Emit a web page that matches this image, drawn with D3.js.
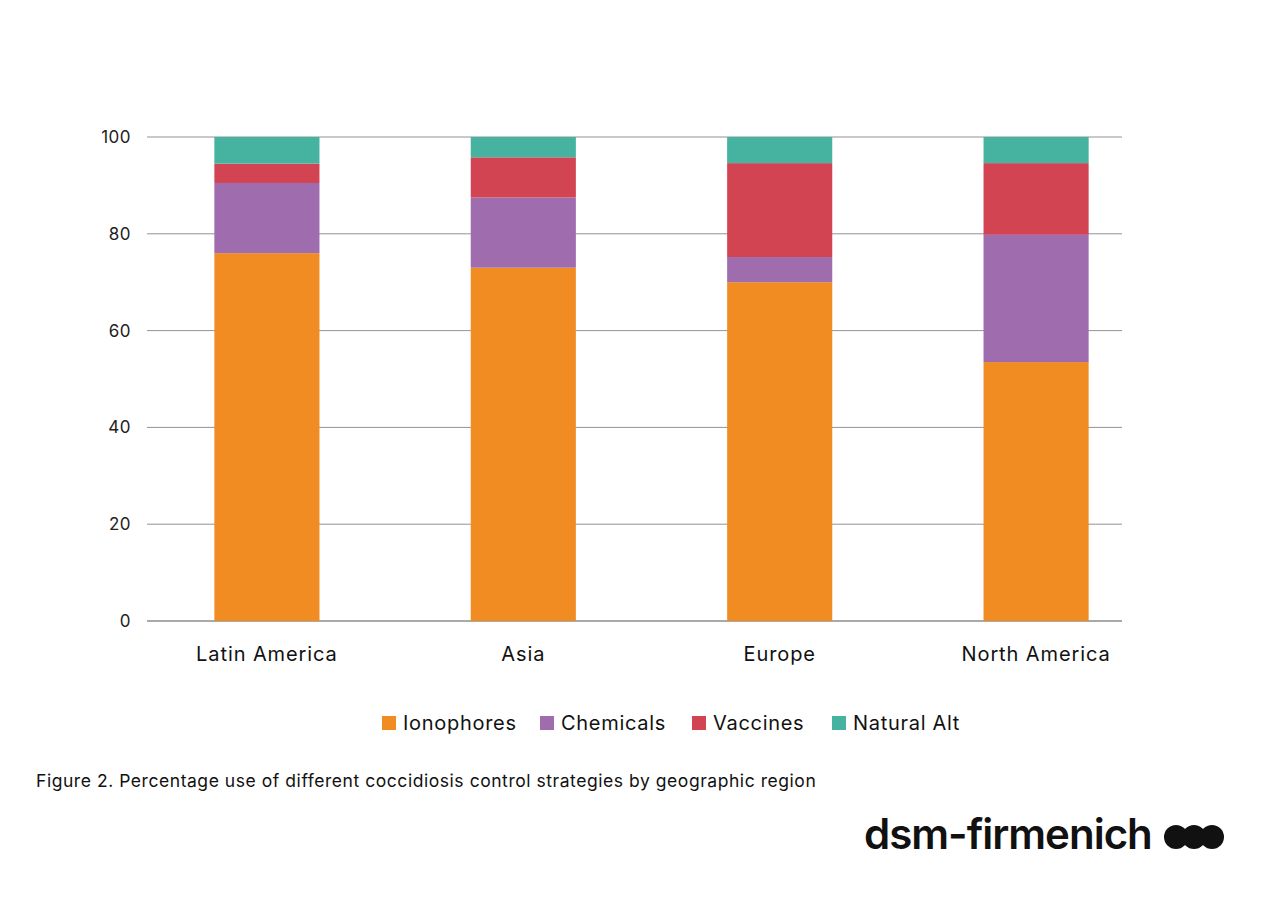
<!DOCTYPE html>
<html><head><meta charset="utf-8">
<script src="https://cdn.jsdelivr.net/npm/d3@7"></script>
<style>body{margin:0;background:#fff}</style></head>
<body><svg id="c" width="1280" height="905"></svg>
<script>
const regions=["Latin America","Asia","Europe","North America"];
const seriesNames=["Ionophores","Chemicals","Vaccines","Natural Alt"];
const ionophores=[76,73,70,53.5];
const chemicals=[14.5,14.5,5.2,26.3];
const vaccines=[4,8.3,19.4,14.8];
const naturalAlt=[5.5,4.2,5.4,5.4];
const yTicks=[0,20,40,60,80,100];
const colors=["#f08c22","#9f6dae","#d34452","#45b3a0"];
const font="Inter, 'Open Sans', sans-serif";
const svg=d3.select("#c");
const data=regions.map((r,i)=>({region:r,Ionophores:ionophores[i],Chemicals:chemicals[i],Vaccines:vaccines[i],"Natural Alt":naturalAlt[i]}));
const stack=d3.stack().keys(seriesNames)(data);
const x=d3.scaleBand().domain(regions).range([140,1163]).paddingInner(0.59).paddingOuter(0.29);
const y=d3.scaleLinear().domain([0,100]).range([621,137]);
svg.append("g").selectAll("line").data(yTicks).join("line")
 .attr("x1",147).attr("x2",1122).attr("y1",d=>y(d)).attr("y2",d=>y(d))
 .attr("stroke",d=>d===0?"#555":"#777").attr("stroke-width",d=>d===0?1.2:0.8);
svg.append("g").selectAll("text").data(yTicks).join("text")
 .attr("x",131).attr("y",d=>y(d)+6).attr("text-anchor","end").attr("letter-spacing",0.5)
 .attr("font-family",font).attr("font-size",17).attr("fill","#222").text(d=>d);
stack.forEach((s,k)=>{
 svg.append("g").attr("fill",colors[k]).selectAll("rect").data(s).join("rect")
  .attr("x",d=>x(d.data.region)).attr("width",x.bandwidth())
  .attr("y",d=>y(d[1])).attr("height",d=>y(d[0])-y(d[1]));
});
svg.append("g").selectAll("text").data(regions).join("text")
 .attr("x",d=>x(d)+x.bandwidth()/2).attr("y",661).attr("text-anchor","middle").attr("letter-spacing",0.9)
 .attr("font-family",font).attr("font-size",20).attr("fill","#111").text(d=>d);
const legX=[382,540,692,832];
const lg=svg.append("g").selectAll("g").data(seriesNames).join("g")
 .attr("transform",(d,i)=>`translate(${legX[i]},716)`);
lg.append("rect").attr("width",14).attr("height",14).attr("fill",(d,i)=>colors[i]);
lg.append("text").attr("x",21).attr("y",14).attr("letter-spacing",0.7).attr("font-family",font).attr("font-size",20).attr("fill","#111").text(d=>d);
svg.append("text").attr("x",36).attr("y",787).attr("font-family",font).attr("font-size",17.5).attr("letter-spacing",0.55).attr("fill","#111")
 .text("Figure 2. Percentage use of different coccidiosis control strategies by geographic region");
svg.append("text").attr("x",864).attr("y",849).attr("font-family",font).attr("font-size",42).attr("font-weight",600)
 .attr("letter-spacing",-1).attr("fill","#111").text("dsm-firmenich");
[1176,1194,1212].forEach(cx=>svg.append("circle").attr("cx",cx).attr("cy",837).attr("r",12).attr("fill","#111"));
</script></body></html>
